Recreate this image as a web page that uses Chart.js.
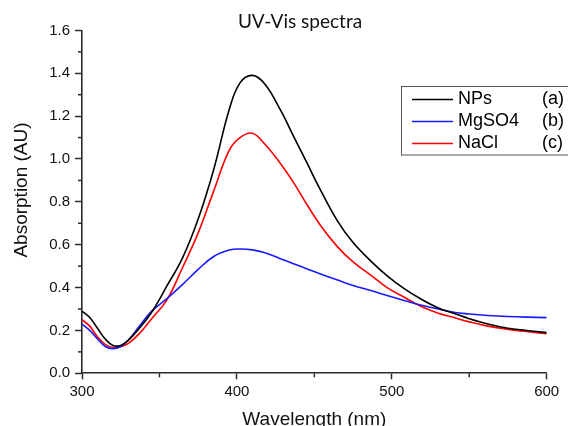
<!DOCTYPE html>
<html><head><meta charset="utf-8">
<script src="https://cdn.jsdelivr.net/npm/chart.js@4.4.1/dist/chart.umd.min.js"></script>
<style>html,body{margin:0;padding:0;background:#fff;overflow:hidden}#wrap{width:568px;height:426px}</style>
</head><body><div id="wrap"><canvas id="c" width="568" height="426"></canvas></div>
<script>
const wavelengths = [300,305,310,315,320,325,330,337,345,355,365,375,385,395,402,410,418,428,437,445,454,465,475,487,497,508,518,530,540,550,562,575,587,600];
const npsValues   = [0.29,0.26,0.21,0.16,0.13,0.13,0.155,0.21,0.285,0.41,0.54,0.72,0.95,1.23,1.355,1.39,1.35,1.23,1.10,0.985,0.855,0.71,0.61,0.52,0.455,0.395,0.35,0.305,0.28,0.255,0.23,0.21,0.20,0.19];
const mgso4Values = [0.23,0.20,0.16,0.125,0.115,0.125,0.155,0.22,0.29,0.35,0.415,0.485,0.545,0.575,0.58,0.576,0.563,0.535,0.51,0.488,0.463,0.435,0.41,0.385,0.363,0.34,0.32,0.30,0.285,0.277,0.27,0.265,0.262,0.26];
const naclValues  = [0.25,0.22,0.17,0.135,0.12,0.125,0.14,0.185,0.255,0.345,0.495,0.655,0.85,1.04,1.10,1.12,1.07,0.98,0.885,0.79,0.69,0.59,0.52,0.455,0.40,0.355,0.315,0.28,0.26,0.24,0.22,0.205,0.195,0.185];
const seriesNames = ['NPs','MgSO4','NaCl'];
const seriesTags  = ['(a)','(b)','(c)'];
const xMinorTicks = [350,450,550];
const yMinorTicks = [0.1,0.3,0.5,0.7,0.9,1.1,1.3,1.5];
const colors = ['#000000','#1a1aff','#ff0000'];

const pts = vals => wavelengths.map((w,i)=>({x:w,y:vals[i]}));
const AX = '#2a2a2a';
const FONT = '"Liberation Sans", Arial, sans-serif';

const decor = {
  id:'decor',
  afterDraw(chart){
    const ctx = chart.ctx, xs = chart.scales.x, ys = chart.scales.y;
    ctx.save();
    ctx.strokeStyle = AX; ctx.lineWidth = 1.5;
    xMinorTicks.forEach(v=>{const p=xs.getPixelForValue(v); ctx.beginPath(); ctx.moveTo(p,ys.bottom); ctx.lineTo(p,ys.bottom+4); ctx.stroke();});
    yMinorTicks.forEach(v=>{const p=ys.getPixelForValue(v); ctx.beginPath(); ctx.moveTo(xs.left,p); ctx.lineTo(xs.left-4,p); ctx.stroke();});
    // chart title
    ctx.font = '19px Lato, "Open Sans", sans-serif'; ctx.fillStyle = '#111'; ctx.textAlign = 'center'; ctx.textBaseline = 'middle';
    ctx.fillText('UV-Vis spectra', 300, 21.5);
    // y axis title
    ctx.save();
    ctx.translate(22, 190); ctx.rotate(-Math.PI/2);
    ctx.font = '19px ' + FONT; ctx.fillStyle = '#111'; ctx.textAlign = 'center'; ctx.textBaseline = 'middle';
    ctx.fillText('Absorption (AU)', 0, 0);
    ctx.restore();
    // legend
    ctx.strokeStyle = '#555'; ctx.lineWidth = 1;
    ctx.strokeRect(401.5, 86.5, 170, 68.5);
    const rows = [99.5, 121.5, 143.5];
    ctx.font = '18px ' + FONT; ctx.textBaseline = 'middle'; ctx.fillStyle = '#000';
    rows.forEach((ry,i)=>{
      ctx.strokeStyle = colors[i]; ctx.lineWidth = 1.6;
      ctx.beginPath(); ctx.moveTo(412, ry); ctx.lineTo(453, ry); ctx.stroke();
      ctx.textAlign = 'left';
      ctx.fillText(seriesNames[i], 458, ry);
      ctx.fillText(seriesTags[i], 542, ry);
    });
    ctx.restore();
  }
};

new Chart(document.getElementById('c'), {
  type:'line',
  data:{ datasets: seriesNames.map((n,i)=>({
    label:n, data:pts([npsValues,mgso4Values,naclValues][i]),
    borderColor:colors[i], borderWidth:1.6, pointRadius:0, tension:0.4, fill:false
  }))},
  options:{
    responsive:false, animation:false, devicePixelRatio:1,
    layout:{padding:{left:0,right:21.3,top:30.4,bottom:0}},
    plugins:{ legend:{display:false}, tooltip:{enabled:false}, title:{display:false} },
    scales:{
      x:{type:'linear', min:300, max:600,
        ticks:{stepSize:100, color:'#111', font:{family:FONT,size:15}, padding:4, maxRotation:0},
        grid:{drawOnChartArea:false, drawTicks:true, tickLength:6, tickColor:AX, tickWidth:1.5},
        border:{display:true, color:AX, width:1.6},
        title:{display:true, text:'Wavelength (nm)', color:'#111', font:{family:FONT,size:19}, padding:{top:0,bottom:-4.8}},
        afterFit(s){ s.height = 52.7; }
      },
      y:{min:0, max:1.6,
        ticks:{stepSize:0.2, color:'#111', font:{family:FONT,size:15}, padding:5, callback:v=>Number(v).toFixed(1)},
        grid:{drawOnChartArea:false, drawTicks:true, tickLength:7, tickColor:AX, tickWidth:1.5},
        border:{display:true, color:AX, width:1.6},
        afterFit(s){ s.width = 82; }
      }
    }
  },
  plugins:[decor]
});
</script></body></html>
